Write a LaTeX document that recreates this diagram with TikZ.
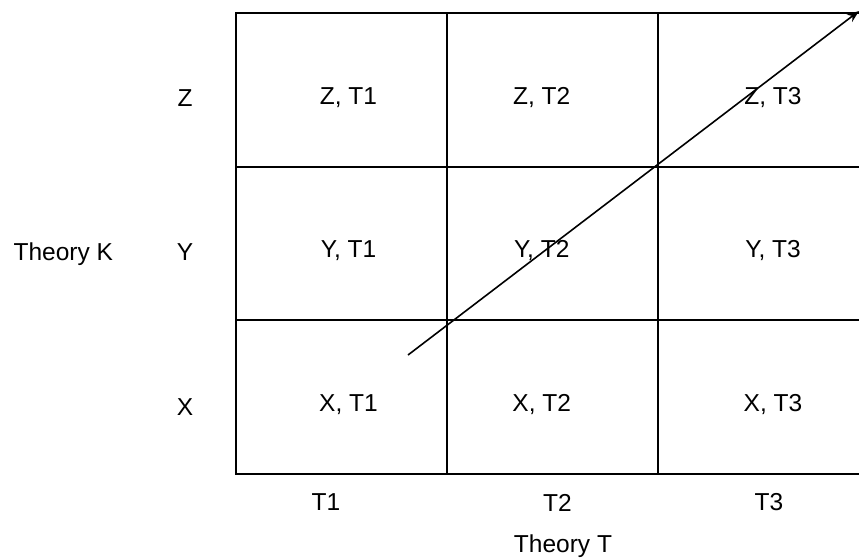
\documentclass[tikz,border=0pt]{standalone}
\usepackage{fontspec}
\setmainfont{Liberation Sans}
\usetikzlibrary{arrows.meta}
\begin{document}
\begin{tikzpicture}[x=1pt,y=-1pt,
  lbl/.style={anchor=base,inner sep=0pt,font=\fontsize{24.5}{29}\selectfont},
  gridline/.style={line width=2pt,line cap=rect},
  trend/.style={line width=1.6pt,-{Stealth[length=12pt,width=9pt]}}]
\useasboundingbox (0,0) rectangle (859,558);
\clip (0,0) rectangle (859,558);
% grid
\draw[gridline] (236,13) -- (890,13);
\draw[gridline] (236,166.5) -- (890,166.5);
\draw[gridline] (236,320) -- (890,320);
\draw[gridline] (236,474) -- (890,474);
\draw[gridline] (236,13) -- (236,474);
\draw[gridline] (446.5,13) -- (446.5,474);
\draw[gridline] (658,13) -- (658,474);
% row labels
\node[lbl] (thk) at (63.3,260.7) {Theory K};
\node[lbl] (rz) at (185,106.7) {Z};
\node[lbl] (ry) at (185,260.7) {Y};
\node[lbl] (rx) at (185,415) {X};
% cells
\node[lbl] (zt1) at (348.5,104) {Z, T1};
\node[lbl] (zt2) at (541.7,104) {Z, T2};
\node[lbl] (zt3) at (773,104.5) {Z, T3};
\node[lbl] (yt1) at (348.5,257) {Y, T1};
\node[lbl] (yt2) at (541.7,257) {Y, T2};
\node[lbl] (yt3) at (773,257) {Y, T3};
\node[lbl] (xt1) at (348.5,411.7) {X, T1};
\node[lbl] (xt2) at (541.7,411.7) {X, T2};
\node[lbl] (xt3) at (773,411.7) {X, T3};
% column labels
\node[lbl] (ct1) at (326,510.7) {T1};
\node[lbl] (ct2) at (557.5,511.2) {T2};
\node[lbl] (ct3) at (769,510.7) {T3};
\node[lbl] (tht) at (563,552.7) {Theory T};
% arrow
\coordinate (astart) at (408,355);
\coordinate (aend) at (859,11);
\draw[trend] (astart) -- (aend);
\end{tikzpicture}
\end{document}
